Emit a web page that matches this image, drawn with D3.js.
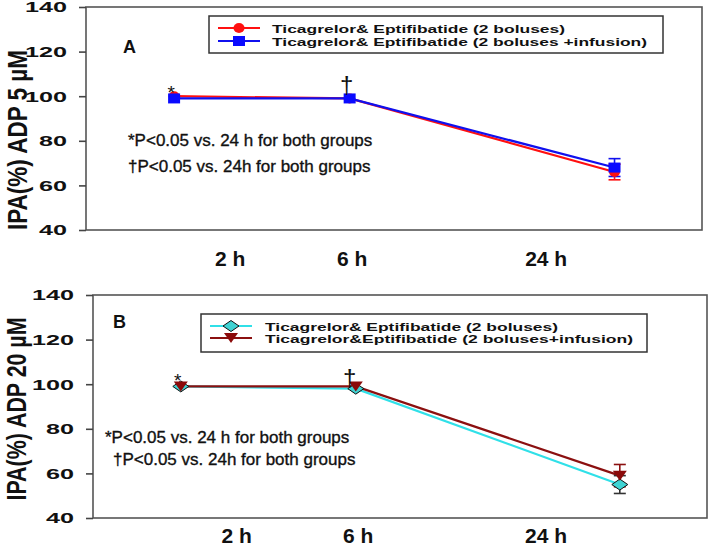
<!DOCTYPE html>
<html>
<head>
<meta charset="utf-8">
<script src="https://cdnjs.cloudflare.com/ajax/libs/d3/7.8.5/d3.min.js"></script>
<style>
  body { margin: 0; background: #fff; }
  svg { display: block; font-family: "Liberation Sans", Arial, sans-serif; }
</style>
</head>
<body>
<svg id="chart" width="709" height="546"></svg>
<script>
// categories (hours after dosing) and their labels
var hours     = [2, 6, 24],
    timeLabels = ["2 h", "6 h", "24 h"],
    yTicks    = [40, 60, 80, 100, 120, 140];

// Panel A : ADP 5 uM
var aNames = ["Ticagrelor& Eptifibatide (2 boluses)", "Ticagrelor& Eptifibatide (2 boluses +infusion)"],
    aBolus    = [100, 99, 66],
    aBolusErr = [0, 0, 3.5],
    aInf      = [99, 99, 68],
    aInfErr   = [0, 0, 4];

// Panel B : ADP 20 uM
var bNames = ["Ticagrelor& Eptifibatide (2 boluses)", "Ticagrelor&Eptifibatide (2 boluses+infusion)"],
    bBolus    = [99, 98, 55],
    bBolusErr = [0, 0, 4],
    bInf      = [99, 99, 59],
    bInfErr   = [0, 0, 5];

var notes = ["*P<0.05 vs. 24 h for both groups", "\u2020P<0.05 vs. 24h for both groups"];

var svg = d3.select("#chart");

function drawPanel(p) {
  var g = svg.append("g");
  var w = p.right - p.left;

  var y = d3.scaleLinear().domain([40, 140]).range([p.bottom, p.top]);
  // point positions along the time axis (uneven spacing, as in the figure)
  var x = d3.scaleLinear().domain(hours).range([0.143, 0.428, 0.858].map(function(f) { return p.left + f * w; }));
  // category labels sit on their own positions under the frame
  var xLab = d3.scaleOrdinal().domain(timeLabels).range(p.labFrac.map(function(f) { return p.left + f * w; }));

  // frame
  g.append("rect")
    .attr("x", p.left).attr("y", p.top)
    .attr("width", w).attr("height", p.bottom - p.top)
    .style("fill", "none").style("stroke", "#555").style("stroke-width", 1.6);

  // y axis
  var yAxis = g.append("g")
    .attr("transform", "translate(" + p.left + ",0)")
    .call(d3.axisLeft(y).tickValues(yTicks).tickSize(7).tickPadding(12));
  yAxis.select(".domain").remove();
  yAxis.selectAll("line").style("stroke", "#444").style("stroke-width", 1.6);
  yAxis.selectAll("text")
    .style("font-size", "15px").style("font-weight", "bold").style("fill", "#111")
    .attr("lengthAdjust", "spacingAndGlyphs")
    .attr("textLength", function(d) { return String(d).length * 14; });

  // y title
  g.append("text")
    .attr("transform", "translate(" + p.titleX + "," + p.titleY + ") rotate(-90)")
    .attr("text-anchor", "middle")
    .attr("lengthAdjust", "spacingAndGlyphs")
    .attr("textLength", p.titleLen)
    .style("font-size", "28px").style("font-weight", "bold").style("fill", "#111")
    .text(p.title);

  // x labels
  g.selectAll(".xlab")
    .data(timeLabels)
    .enter().append("text")
      .attr("x", function(d) { return xLab(d); })
      .attr("y", p.labY)
      .attr("text-anchor", "middle")
      .style("font-size", "21px").style("font-weight", "bold").style("fill", "#111")
      .text(function(d) { return d; });

  var line = d3.line()
    .x(function(d) { return x(d.h); })
    .y(function(d) { return y(d.v); });

  var series = p.series.map(function(s) {
    return { s: s, pts: hours.map(function(h, i) { return { h: h, v: s.values[i], e: s.err[i] }; }) };
  });

  // lines
  series.forEach(function(d) {
    g.append("path")
      .datum(d.pts)
      .attr("d", line)
      .style("fill", "none").style("stroke", d.s.color).style("stroke-width", 2.2);
  });

  // error bars
  series.forEach(function(d) {
    var eb = g.append("g").selectAll("g")
      .data(d.pts.filter(function(q) { return q.e > 0; }))
      .enter().append("g")
        .style("stroke", d.s.errColor).style("stroke-width", 1.6);
    eb.append("line")
      .attr("x1", function(q) { return x(q.h); }).attr("x2", function(q) { return x(q.h); })
      .attr("y1", function(q) { return y(q.v - q.e); }).attr("y2", function(q) { return y(q.v + q.e); });
    [-1, 1].forEach(function(sign) {
      eb.append("line")
        .attr("x1", function(q) { return x(q.h) - 6; }).attr("x2", function(q) { return x(q.h) + 6; })
        .attr("y1", function(q) { return y(q.v + sign * q.e); }).attr("y2", function(q) { return y(q.v + sign * q.e); });
    });
  });

  // markers
  series.forEach(function(d) {
    g.append("g").selectAll("path")
      .data(d.pts)
      .enter().append("path")
        .attr("transform", function(q) { return "translate(" + x(q.h) + "," + y(q.v) + ")"; })
        .attr("d", d.s.shape)
        .style("fill", d.s.fill)
        .style("stroke", d.s.stroke || "none").style("stroke-width", 1);
  });

  // significance marks
  g.append("text")
    .attr("x", x(hours[0]) - 3).attr("y", p.starY)
    .attr("text-anchor", "middle")
    .style("font-size", "19px").style("fill", "#111")
    .text("*");
  g.append("text")
    .attr("x", x(hours[1]) - p.dagDx).attr("y", p.dagY)
    .attr("text-anchor", "middle")
    .style("font-size", "24px").style("fill", "#111")
    .text("\u2020");

  // panel letter
  g.append("text")
    .attr("x", p.letterX).attr("y", p.letterY)
    .style("font-size", "18px").style("font-weight", "bold").style("fill", "#111")
    .text(p.letter);

  // notes
  g.selectAll(".note")
    .data(notes)
    .enter().append("text")
      .attr("x", function(d, i) { return p.noteX[i]; })
      .attr("y", function(d, i) { return p.noteY[i]; })
      .style("font-size", "17px").style("fill", "#111")
      .style("stroke", "#111").style("stroke-width", 0.35)
      .text(function(d) { return d; });

  // legend
  var lg = p.legend;
  g.append("rect")
    .attr("x", lg.x).attr("y", lg.y).attr("width", lg.w).attr("height", lg.h)
    .style("fill", "#fff").style("stroke", "#333").style("stroke-width", 1.5);
  series.forEach(function(d, i) {
    var ry = lg.rows[i];
    g.append("line")
      .attr("x1", lg.x + 9).attr("x2", lg.x + 51)
      .attr("y1", ry).attr("y2", ry)
      .style("stroke", d.s.color).style("stroke-width", 2.2);
    g.append("path")
      .attr("transform", "translate(" + (lg.x + 30) + "," + ry + ")")
      .attr("d", d.s.shape)
      .style("fill", d.s.fill)
      .style("stroke", d.s.stroke || "none").style("stroke-width", 1);
    g.append("text")
      .attr("x", lg.x + lg.textDx).attr("y", ry + 5)
      .attr("lengthAdjust", "spacingAndGlyphs")
      .attr("textLength", lg.textLen[i])
      .style("font-size", "11px").style("font-weight", "bold").style("fill", "#111")
      .text(d.s.name);
  });
}

var circle   = "M-5.5,0A5.5,5 0 1,0 5.5,0A5.5,5 0 1,0 -5.5,0Z",
    square   = "M-6,-5H6V5H-6Z",
    diamond  = "M-8,0L0,-5.5L8,0L0,5.5Z",
    triangle = "M-7,-5H7L0,5Z";

drawPanel({
  left: 86, right: 702, top: 7, bottom: 230,
  title: "IPA(%) ADP 5 \u00b5M", titleX: 27, titleY: 140, titleLen: 180,
  labFrac: [0.234, 0.432, 0.747], labY: 266,
  starY: 99, dagY: 93, dagDx: 3,
  letter: "A", letterX: 123, letterY: 53,
  noteX: [128, 128], noteY: [146, 172],
  legend: { x: 209, y: 16, w: 454, h: 37, rows: [28, 41], textDx: 63, textLen: [293, 375] },
  series: [
    { name: aNames[0], values: aBolus, err: aBolusErr, color: "#ff1010", errColor: "#ff1010", fill: "#ff1010", shape: circle },
    { name: aNames[1], values: aInf, err: aInfErr, color: "#1010ee", errColor: "#1010ee", fill: "#0a0aff", shape: square }
  ]
});

drawPanel({
  left: 93, right: 707, top: 295, bottom: 518,
  title: "IPA(%) ADP 20 \u00b5M", titleX: 26, titleY: 409, titleLen: 183,
  labFrac: [0.234, 0.432, 0.738], labY: 543,
  starY: 387, dagY: 386, dagDx: 6,
  letter: "B", letterX: 113, letterY: 328,
  noteX: [105, 113], noteY: [443, 465],
  legend: { x: 201, y: 314, w: 446, h: 38, rows: [326, 338], textDx: 64, textLen: [293, 368] },
  series: [
    { name: bNames[0], values: bBolus, err: bBolusErr, color: "#30e0e8", errColor: "#333", fill: "#3fd3d3", stroke: "#111", shape: diamond },
    { name: bNames[1], values: bInf, err: bInfErr, color: "#8b1010", errColor: "#8b1010", fill: "#8b0a0a", shape: triangle }
  ]
});
</script>
</body>
</html>
